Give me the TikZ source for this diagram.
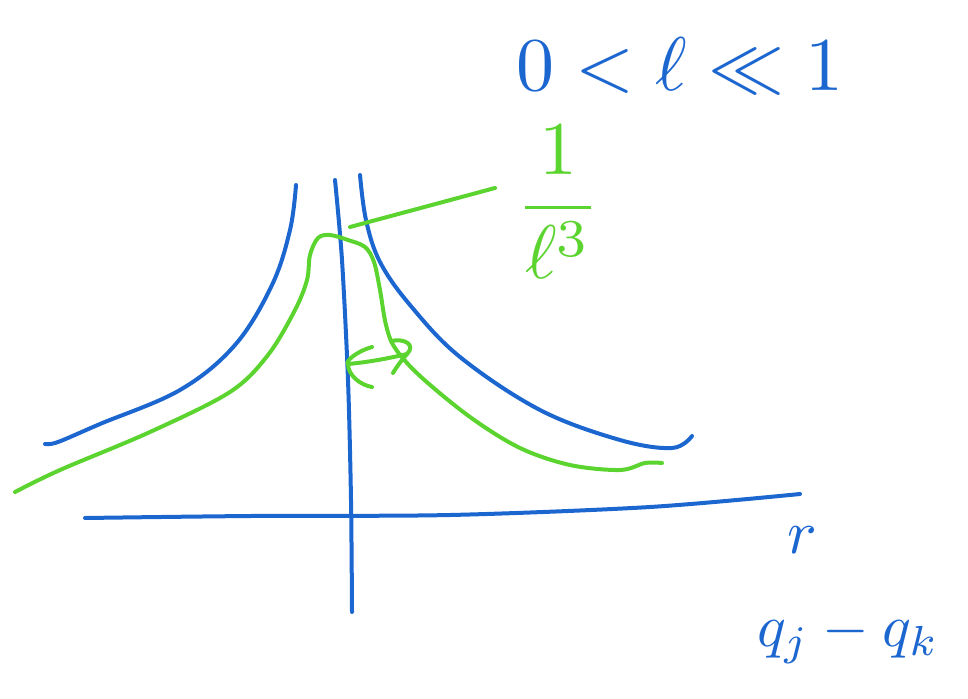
\documentclass[tikz,border=0pt]{standalone}
\usepackage{amsmath,amssymb}
\definecolor{pen}{RGB}{28,102,208}
\definecolor{lime}{RGB}{92,212,48}
\tikzset{
  bluestroke/.style={draw=pen,line width=4pt,line cap=round,line join=round},
  greenstroke/.style={draw=lime,line width=4pt,line cap=round,line join=round},
  bluetext/.style={text=pen,inner sep=0pt},
  greentext/.style={text=lime,inner sep=0pt},
}
\begin{document}
\begin{tikzpicture}[x=1pt,y=-1pt]
\useasboundingbox (0,0) rectangle (968,698);
% axes
\draw[bluestroke] plot[smooth] coordinates {(85,518) (250,516) (450,515) (650,507) (800,494)};
\draw[bluestroke] plot[smooth] coordinates {(335,180) (342,260) (348,380) (351,500) (352,612)};
% blue curves
\draw[bluestroke] plot[smooth,tension=0.6] coordinates {(45,444) (58,442) (100,424) (180,390) (235,345) (272,285) (290,230) (296,185)};
\draw[bluestroke] plot[smooth,tension=0.6] coordinates {(360,175) (366,220) (380,262) (410,305) (460,357) (540,410) (620,440) (672,448) (692,436)};
% green curve
\draw[greenstroke] plot[smooth,tension=0.55] coordinates {(15,492) (60,470) (150,432) (230,392) (268,355) (295,310) (307,280) (310,255) (318,238) (330,235) (348,240) (365,247) (374,262) (380,290) (386,325) (395,348) (420,376) (470,417) (520,448) (570,465) (620,470) (645,463) (662,463)};
% label 1/l^3 with connector
\node[greentext,scale=7.6] (frac) at (558,202) {$\displaystyle\frac{1}{\ell^{3}}$};
\coordinate (peak) at (350,227);
\coordinate (lineend) at (495,188);
\draw[greenstroke] (peak) -- (lineend);
% small double arrow
\coordinate (al) at (348,364);
\coordinate (ar) at (407,354);
\draw[greenstroke] (al) .. controls (370,362) and (390,358) .. (ar);
\draw[greenstroke] (372,347) .. controls (355,352) and (345,362) .. (al) .. controls (348,375) and (360,385) .. (372,387);
\draw[greenstroke] (391,341) .. controls (405,338) and (416,345) .. (ar) .. controls (400,362) and (396,368) .. (393,373);
% texts
\node[bluetext,scale=7.6] (cond) at (680,66) {$0<\ell\ll 1$};
\node[bluetext,scale=6.2] (rlab) at (802,540) {$r$};
\node[bluetext,scale=6] (qlab) at (848,638) {$q_j-q_k$};
\end{tikzpicture}
\end{document}
